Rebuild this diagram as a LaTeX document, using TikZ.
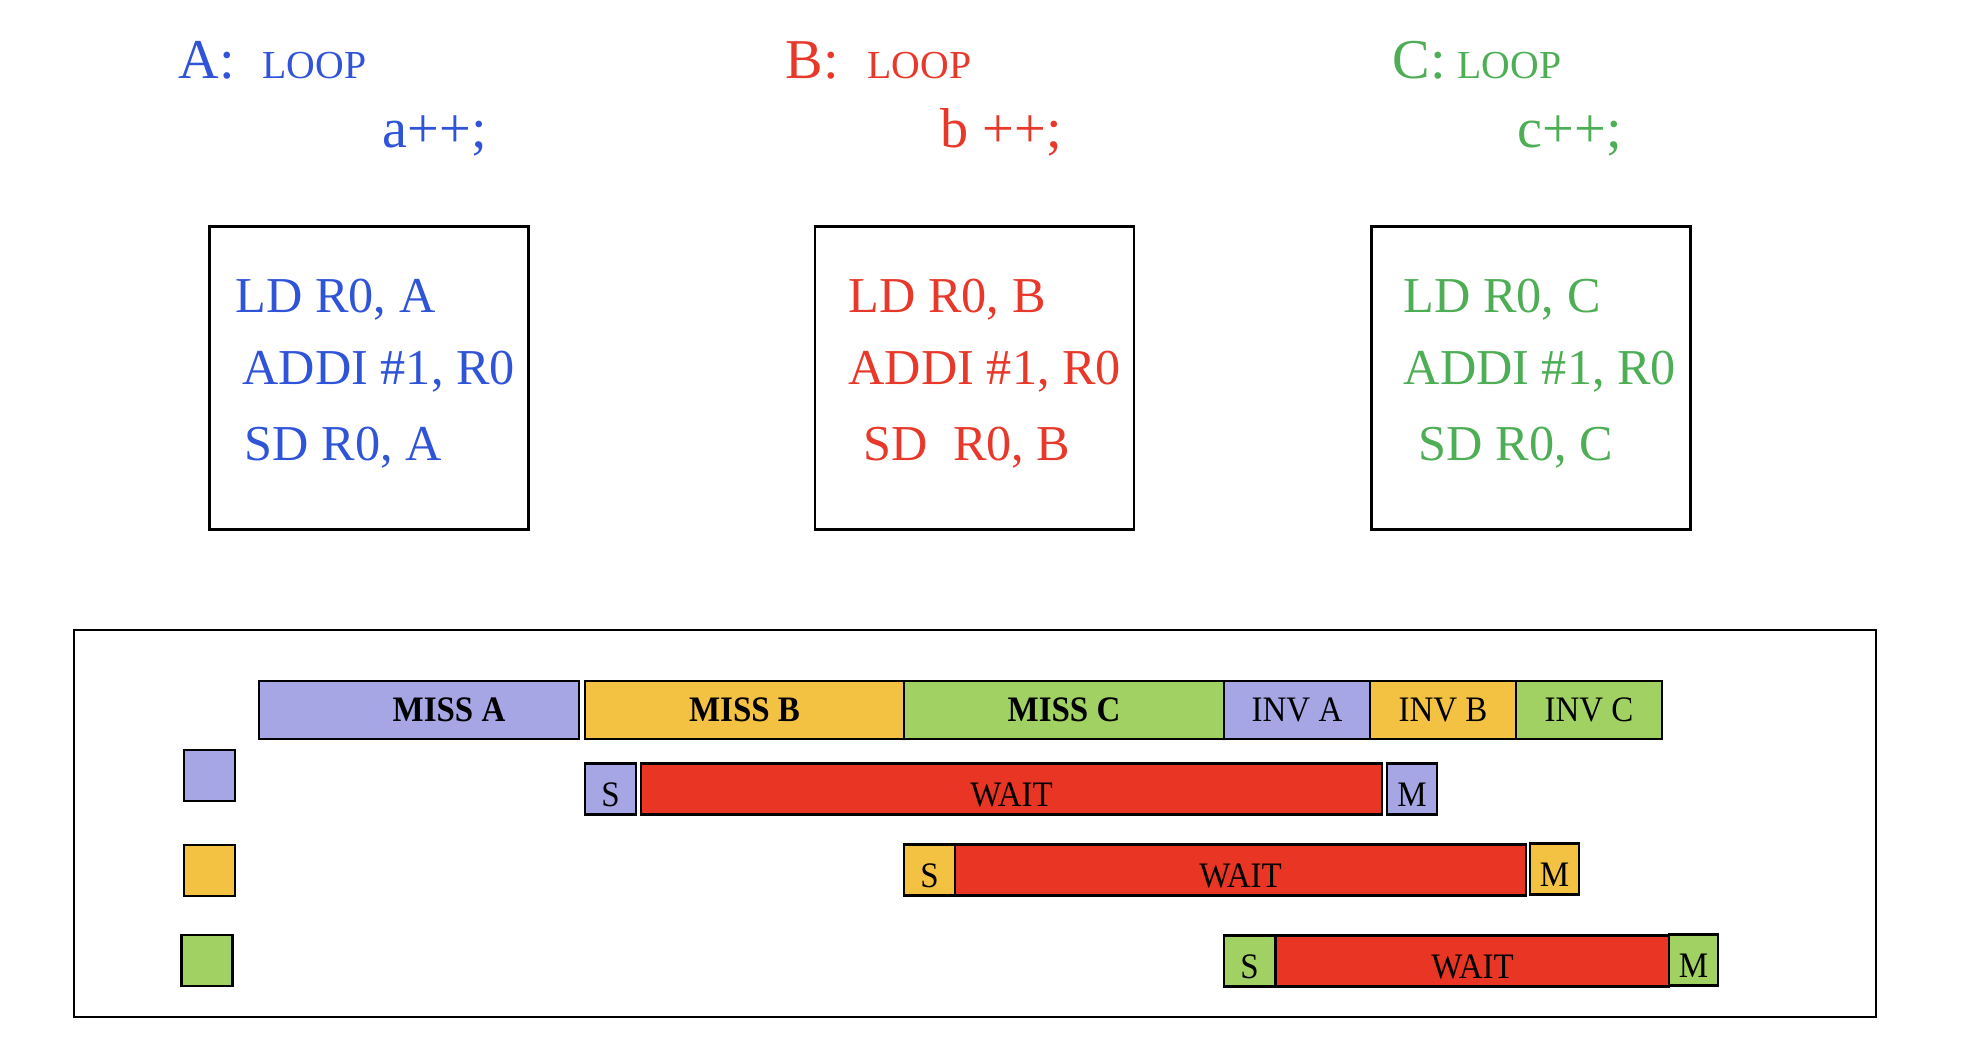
\documentclass[tikz,border=0pt]{standalone}
\usepackage{fontspec}
\setmainfont{Liberation Serif}
\newfontfamily\barfont[FakeStretch=0.92]{Liberation Serif}
\definecolor{loopblue}{RGB}{48, 84, 216}
\definecolor{loopred}{RGB}{232, 56, 42}
\definecolor{loopgreen}{RGB}{78, 174, 86}
\definecolor{lavender1}{RGB}{166, 166, 228}
\definecolor{amber1}{RGB}{244, 194, 66}
\definecolor{lime1}{RGB}{161, 208, 99}
\definecolor{waitred}{RGB}{233, 53, 36}
\usetikzlibrary{positioning}
\tikzset{
  head/.style={anchor=base west, inner sep=0pt, font=\fontsize{16}{19}\selectfont},
  loopword/.style={anchor=base west, inner sep=0pt, font=\fontsize{11.3}{13}\selectfont},
  codebox/.style={draw, line width=0.7pt, minimum width=3.19cm, minimum height=3.03cm, inner sep=0pt},
  codeline/.style={anchor=base west, inner sep=0pt, font=\fontsize{14.3}{17}\selectfont},
  frame/.style={draw, line width=0.8pt, minimum width=18.02cm, minimum height=3.87cm, inner sep=0pt},
  bar/.style={draw, line width=0.8pt, inner sep=0pt, minimum height=0.58cm,
    text height=0.24cm, text depth=0pt, font=\barfont\fontsize{10.2}{12}\selectfont},
  slot/.style={bar, minimum height=0.51cm, text height=0.36cm},
  keybox/.style={draw, line width=0.8pt, minimum width=0.51cm, minimum height=0.51cm, inner sep=0pt}
}

\begin{document}
\begin{tikzpicture}
  \useasboundingbox (0,0) rectangle (19.68,10.48);

  % Three loops
  \node[head, text=loopblue] (headA) at (1.78, 9.69) {A:};
  \node[loopword, text=loopblue] (loopA) at (2.62, 9.69) {LOOP};
  \node[head, text=loopblue] (incA) at (3.82, 9.00) {a++;};

  \node[head, text=loopred] (headB) at (7.85, 9.69) {B:};
  \node[loopword, text=loopred] (loopB) at (8.67, 9.69) {LOOP};
  \node[head, text=loopred] (incB) at (9.40, 9.00) {b ++;};

  \node[head, text=loopgreen] (headC) at (13.92, 9.69) {C:};
  \node[loopword, text=loopgreen] (loopC) at (14.57, 9.69) {LOOP};
  \node[head, text=loopgreen] (incC) at (15.17, 9.00) {c++;};

  % Compiled code
  \node[codebox] (codeA) at (3.69, 6.70) {};
  \node[codeline, text=loopblue] (ldA) at (2.35, 7.35) {LD R0, A};
  \node[codeline, text=loopblue] (addA) at (2.42, 6.63) {ADDI \#1, R0};
  \node[codeline, text=loopblue] (sdA) at (2.44, 5.87) {SD R0, A};

  \node[codebox] (codeB) at (9.745, 6.70) {};
  \node[codeline, text=loopred] (ldB) at (8.48, 7.35) {LD R0, B};
  \node[codeline, text=loopred] (addB) at (8.48, 6.63) {ADDI \#1, R0};
  \node[codeline, text=loopred] (sdB) at (8.63, 5.87) {SD~~R0, B};

  \node[codebox] (codeC) at (15.31, 6.70) {};
  \node[codeline, text=loopgreen] (ldC) at (14.03, 7.35) {LD R0, C};
  \node[codeline, text=loopgreen] (addC) at (14.03, 6.63) {ADDI \#1, R0};
  \node[codeline, text=loopgreen] (sdC) at (14.18, 5.87) {SD R0, C};

  % Bus timeline
  \node[frame] (timeline) at (9.75, 2.245) {};

  \node[bar, fill=lavender1, minimum width=3.20cm] (missA) at (4.19, 3.38) {\textbf{\hspace*{0.6cm}MISS A}};
  \node[bar, fill=amber1, minimum width=3.19cm] (missB) at (7.445, 3.38) {\textbf{MISS B}};
  \node[bar, fill=lime1, minimum width=3.20cm] (missC) at (10.64, 3.38) {\textbf{MISS C}};
  \node[bar, fill=lavender1, minimum width=1.46cm] (invA) at (12.97, 3.38) {INV A};
  \node[bar, fill=amber1, minimum width=1.46cm] (invB) at (14.43, 3.38) {INV B};
  \node[bar, fill=lime1, minimum width=1.46cm] (invC) at (15.89, 3.38) {INV C};

  % Processor rows
  \node[keybox, fill=lavender1] (keyA) at (2.095, 2.725) {};
  \node[slot, fill=lavender1, minimum width=0.51cm] (sA) at (6.105, 2.59) {S};
  \node[slot, fill=waitred, minimum width=7.41cm] (waitA) at (10.115, 2.59) {WAIT};
  \node[slot, fill=lavender1, minimum width=0.50cm] (mA) at (14.12, 2.59) {M};

  \node[keybox, fill=amber1] (keyB) at (2.095, 1.775) {};
  \node[slot, fill=amber1, minimum width=0.51cm] (sB) at (9.295, 1.78) {S};
  \node[slot, fill=waitred, minimum width=5.71cm] (waitB) at (12.405, 1.78) {WAIT};
  \node[slot, fill=amber1, minimum width=0.49cm] (mB) at (15.545, 1.79) {M};

  \node[keybox, fill=lime1] (keyC) at (2.07, 0.875) {};
  \node[slot, fill=lime1, minimum width=0.51cm] (sC) at (12.495, 0.87) {S};
  \node[slot, fill=waitred, minimum width=3.93cm] (waitC) at (14.725, 0.87) {WAIT};
  \node[slot, fill=lime1, minimum width=0.49cm] (mC) at (16.935, 0.88) {M};
\end{tikzpicture}
\end{document}
